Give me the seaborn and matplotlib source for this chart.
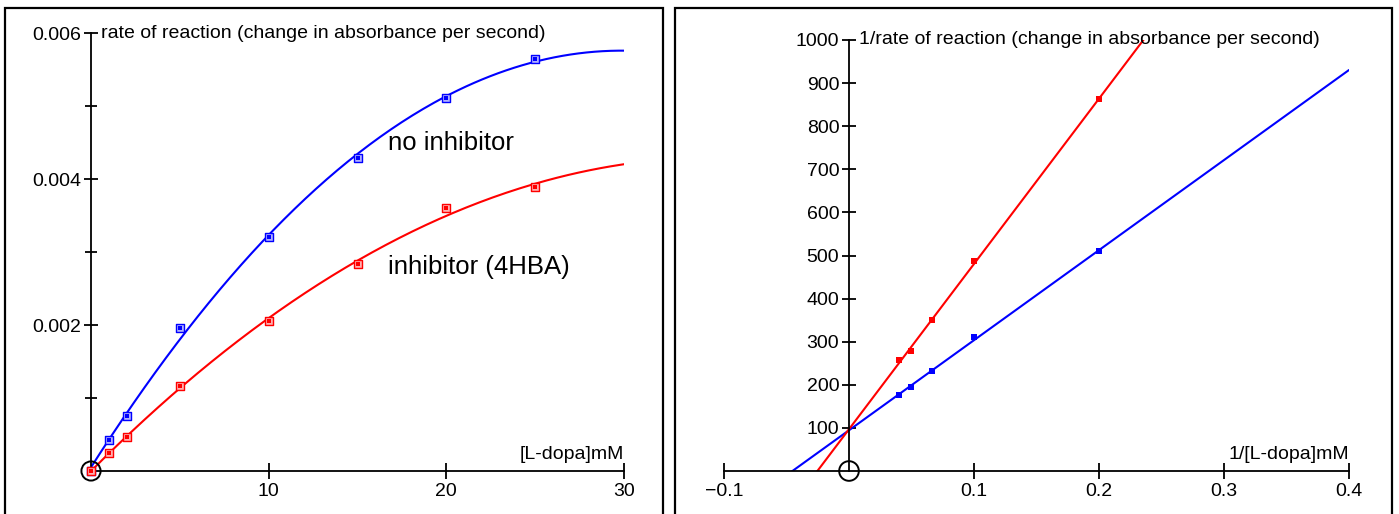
import numpy as np
import pandas as pd
import matplotlib
matplotlib.use("Agg")
import matplotlib.pyplot as plt
from matplotlib.patches import Rectangle
import seaborn as sns

sns.set_style("white")
plt.rcParams['font.family'] = ['Liberation Sans', 'DejaVu Sans']
plt.rcParams['text.color'] = 'black'
plt.rcParams['xtick.color'] = 'black'
plt.rcParams['ytick.color'] = 'black'
plt.rcParams['axes.labelcolor'] = 'black'

# ---- data ----
conc = [0, 1, 2, 5, 10, 15, 20, 25]                      # [L-dopa] mM
rate_none = [0, 0.000425, 0.000753, 0.00196, 0.00321, 0.00429, 0.00511, 0.00564]
rate_inh = [0, 0.000247, 0.000466, 0.00116, 0.00205, 0.00284, 0.00360, 0.00389]

# Lineweaver-Burk points (1/x, 1/y) for conc 5..25
lb_conc = [5, 10, 15, 20, 25]
lb_none = [510, 311, 233, 196, 177]
lb_inh = [862, 488, 351, 278, 257]

left_xticks = [10, 20, 30]
left_yticks = [0.002, 0.004, 0.006]
left_yticklabels = ["0.002", "0.004", "0.006"]
left_yminor = [0.001, 0.003, 0.005]
right_xticks = [-0.1, 0.1, 0.2, 0.3, 0.4]
right_xticklabels = ["\u22120.1", "0.1", "0.2", "0.3", "0.4"]
right_yticks = [100, 200, 300, 400, 500, 600, 700, 800, 900, 1000]

BLUE = "#0000ff"
RED = "#ff0000"

W, H = 1399, 514
fig = plt.figure(figsize=(W / 100, H / 100), dpi=100)

# panel frames
fig.patches.append(Rectangle((5 / W, -0.1), 658 / W, 1.1 - 8 / H, transform=fig.transFigure,
                             fill=False, edgecolor="black", linewidth=1.6))
fig.patches.append(Rectangle((675 / W, -0.1), 717 / W, 1.1 - 8 / H, transform=fig.transFigure,
                             fill=False, edgecolor="black", linewidth=1.6))

ax1 = fig.add_axes([91 / W, 43 / H, 533 / W, 438 / H])
ax2 = fig.add_axes([724 / W, 43 / H, 625 / W, 431 / H])

for ax in (ax1, ax2):
    ax.set_facecolor("none")
    ax.spines["top"].set_visible(False)
    ax.spines["right"].set_visible(False)
    ax.spines["left"].set_position(("data", 0))
    ax.spines["bottom"].set_position(("data", 0))
    for s in ("left", "bottom"):
        ax.spines[s].set_linewidth(1.3)
        ax.spines[s].set_color("black")
    ax.tick_params(axis="both", which="both", bottom=True, left=True, top=False, right=False,
                   colors="black", labelcolor="black", labelsize=14, width=1.3)
    ax.tick_params(axis="x", direction="inout", length=12, pad=3)
    ax.tick_params(axis="y", direction="inout", length=10, pad=2)
    ax.tick_params(axis="y", which="minor", direction="inout", length=8, width=1.3)

# ---- left panel: Michaelis-Menten ----
df = pd.DataFrame({"conc": conc, "none": rate_none, "inh": rate_inh})
xs = np.linspace(0, 30, 200)
fit_none = np.polyfit(df["conc"], df["none"], 2)
fit_inh = np.polyfit(df["conc"], df["inh"], 2)
curves = pd.DataFrame({"x": xs, "none": np.polyval(fit_none, xs), "inh": np.polyval(fit_inh, xs)})

sns.lineplot(data=curves, x="x", y="none", color=BLUE, linewidth=1.5, ax=ax1)
sns.lineplot(data=curves, x="x", y="inh", color=RED, linewidth=1.5, ax=ax1)
for col, c, light in (("none", BLUE, "#b0b0ff"), ("inh", RED, "#ffb0b0")):
    sns.scatterplot(data=df, x="conc", y=col, marker="s", s=40, color=light, edgecolor=c,
                    linewidth=1.0, ax=ax1, zorder=4, clip_on=False)
    sns.scatterplot(data=df, x="conc", y=col, marker="s", s=9, color=c, edgecolor=c,
                    linewidth=0, ax=ax1, zorder=5, clip_on=False)
ax1.scatter([0], [0], s=190, facecolor="none", edgecolor="black", linewidth=1.4, zorder=6, clip_on=False)

ax1.set_xlim(0, 30)
ax1.set_ylim(0, 0.006)
ax1.set_xticks(left_xticks)
ax1.set_yticks(left_yticks)
ax1.set_yticklabels(left_yticklabels)
ax1.set_yticks(left_yminor, minor=True)
ax1.set_xlabel("")
ax1.set_ylabel("")
ax1.annotate("rate of reaction (change in absorbance per second)", xy=(0, 0.006),
             xytext=(7, 0), textcoords="offset points", ha="left", va="center", fontsize=14)
ax1.annotate("[L-dopa]mM", xy=(30, 0), xytext=(0, 6), textcoords="offset points",
             ha="right", va="bottom", fontsize=14)
ax1.text(16.7, 0.00449, "no inhibitor", fontsize=18.5, ha="left", va="center")
ax1.text(16.7, 0.00280, "inhibitor (4HBA)", fontsize=18.5, ha="left", va="center")

# ---- right panel: Lineweaver-Burk ----
lb = pd.DataFrame({"inv_conc": 1 / np.array(lb_conc, dtype=float), "none": lb_none, "inh": lb_inh})
xl = np.linspace(-0.1, 0.4, 200)
lin_none = np.polyfit(lb["inv_conc"], lb["none"], 1)
lin_inh = np.polyfit(lb["inv_conc"], lb["inh"], 1)
lines = pd.DataFrame({"x": xl, "none": np.polyval(lin_none, xl), "inh": np.polyval(lin_inh, xl)})
sns.lineplot(data=lines, x="x", y="none", color=BLUE, linewidth=1.5, ax=ax2)
sns.lineplot(data=lines, x="x", y="inh", color=RED, linewidth=1.5, ax=ax2)
sns.scatterplot(data=lb, x="inv_conc", y="none", marker="s", s=14, color=BLUE, linewidth=0, ax=ax2, zorder=5)
sns.scatterplot(data=lb, x="inv_conc", y="inh", marker="s", s=14, color=RED, linewidth=0, ax=ax2, zorder=5)
ax2.scatter([0], [0], s=200, facecolor="none", edgecolor="black", linewidth=1.4, zorder=6, clip_on=False)

ax2.set_xlim(-0.1, 0.4)
ax2.set_ylim(0, 1000)
ax2.set_xticks(right_xticks)
ax2.set_xticklabels(right_xticklabels)
ax2.set_yticks(right_yticks)
ax2.set_xlabel("")
ax2.set_ylabel("")
ax2.annotate("1/rate of reaction (change in absorbance per second)", xy=(0, 1000),
             xytext=(7, 0), textcoords="offset points", ha="left", va="center", fontsize=14)
ax2.annotate("1/[L-dopa]mM", xy=(0.4, 0), xytext=(0, 6), textcoords="offset points",
             ha="right", va="bottom", fontsize=14)

fig.savefig("out.png", dpi=100)
